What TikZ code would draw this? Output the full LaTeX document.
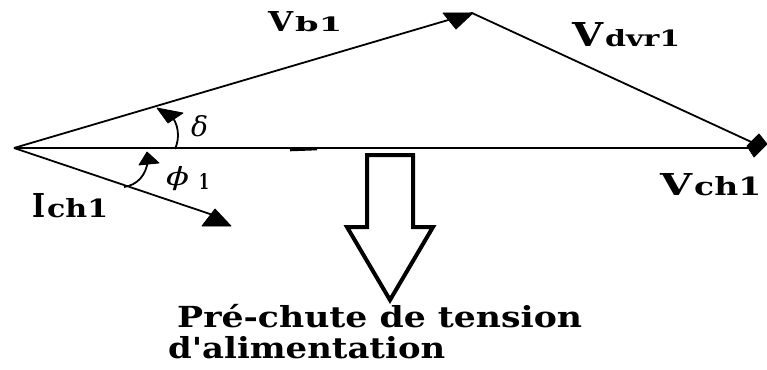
\documentclass[tikz,border=0pt]{standalone}
\usepackage{fontspec}
\setmainfont{DejaVu Serif}
\newfontfamily\capfont{DejaVu Serif}
\usetikzlibrary{arrows.meta}
\newcommand{\fitbox}[3]{\resizebox{#1pt}{#2pt}{\bfseries #3}}
\begin{document}
\begin{tikzpicture}[x=1pt,y=-1pt,
  vecline/.style={line width=1.8pt},
  head/.style={fill=black, draw=black, line width=0.8pt, line join=round},
  lbl/.style={inner sep=0pt, anchor=base west},
  caplbl/.style={font=\capfont\bfseries\fontsize{29}{32}\selectfont, inner sep=0pt, anchor=base west},
  hollow/.style={line width=4pt, line join=miter}
]
\useasboundingbox (0,0) rectangle (767,369);
% points
\coordinate (O) at (14,148);
\coordinate (B) at (472,13);
\coordinate (C) at (760,146);
\coordinate (H) at (752,148);
\coordinate (I) at (216,216);
% vectors
\draw[vecline] (O) -- (H);
\draw[vecline] (O) -- (B);
\draw[vecline] (B) -- (C);
\draw[vecline] (O) -- (I);
% arrowheads
\fill[head] (443,13) -- (473,13) -- (456,29) -- cycle;
\fill[head] (747,146) -- (759,134) -- (767,144) -- (754,157) -- cycle;
\fill[head] (202,226) -- (231,226) -- (215,209) -- cycle;
% small dash on axis
\coordinate (d1) at (290,150);
\coordinate (d2) at (317,149);
\draw[line width=2.6pt] (d1) -- (d2);
% angle arcs
\coordinate (da) at (175,149);
\coordinate (db) at (170,114);
\draw[vecline] (da) .. controls (180,138) and (179,124) .. (db);
\fill[head] (157,108) -- (183,113) -- (168,123) -- cycle;
\coordinate (pa) at (124,187);
\coordinate (pb) at (148,160);
\draw[vecline] (pa) .. controls (137,185) and (146,176) .. (pb);
\fill[head] (147,152) -- (139,165) -- (159,163) -- cycle;
% labels
\node[lbl] (lb) at (268,32) {\fitbox{25}{20}{V}\kern2pt\fitbox{47}{15}{b1}};
\node[lbl] (ldelta) at (191,136) {\resizebox{17pt}{21pt}{\itshape δ}};
\node[lbl] (ldvr) at (572,47) {\fitbox{31}{24}{V}\kern2pt\fitbox{75}{17}{dvr1}};
\node[lbl] (lch) at (660,195) {\fitbox{32}{22}{V}\kern2pt\fitbox{67}{19}{ch1}};
\node[lbl] (lich) at (32,217) {\fitbox{13}{24}{I}\kern2pt\fitbox{61}{19}{ch1}};
\node[lbl] (lphi) at (166,185) {\resizebox{23pt}{19pt}{\itshape ϕ}};
\node[lbl] (lone) at (199,189) {\fitbox{10}{16}{1}};
% hollow arrow
\draw[hollow] (367,155) -- (413,155) -- (413,227) -- (433,227) -- (390,300)
  -- (347,227) -- (367,227) -- cycle;
% caption
\node[caplbl] (t1) at (177,327) {\resizebox{405pt}{\height}{Pré-chute de tension}};
\node[caplbl] (t2) at (168,358) {\resizebox{277pt}{\height}{d'alimentation}};
\end{tikzpicture}
\end{document}
